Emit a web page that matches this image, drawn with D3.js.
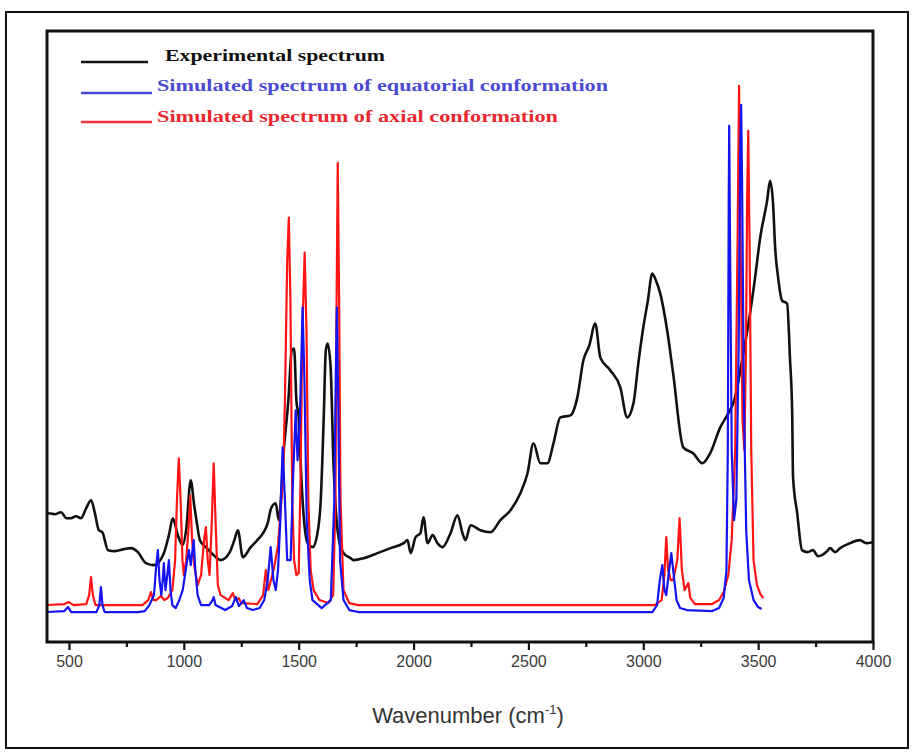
<!DOCTYPE html>
<html>

<head>
  <title>IR spectra</title>
  <script src="https://cdn.jsdelivr.net/npm/d3@7/dist/d3.min.js"></script>
  <style>
    body { margin: 0; background: #fff; }
  </style>
</head>

<body>
  <svg width="913" height="753" id="mainsvg"></svg>
  <script>
    // [wavenumber (cm-1), intensity (arb. units)]
    const experimental = [
      [400,126],[413,128],[440,127],[465,129],[490,123],[509,123],[530,125],[552,123],[575,133],[596,141],
      [612,129],[630,111],[645,109],[670,91],[700,90],[740,92],[770,93],[800,89],[835,78],[870,76],
      [913,88],[935,106],[952,123],[974,106],[995,96],[1010,111],[1030,161],[1045,136],[1055,121],[1070,101],
      [1100,93],[1130,86],[1161,81],[1200,89],[1220,101],[1235,111],[1257,84],[1291,94],[1320,101],[1365,118],
      [1380,133],[1400,138],[1413,121],[1435,191],[1455,241],[1470,291],[1480,293],[1490,241],[1500,224],[1512,161],
      [1522,124],[1539,98],[1561,94],[1580,106],[1596,141],[1609,224],[1618,291],[1626,298],[1639,274],[1652,174],
      [1665,121],[1680,96],[1696,88],[1726,83],[1740,81],[1783,83],[1843,88],[1900,93],[1957,98],[1974,101],
      [1987,88],[2009,104],[2030,108],[2043,124],[2061,98],[2083,106],[2104,98],[2126,94],[2161,108],[2191,126],
      [2213,108],[2226,101],[2248,116],[2291,111],[2335,109],[2378,121],[2422,131],[2465,148],[2496,168],[2522,198],
      [2552,178],[2583,178],[2609,198],[2639,224],[2683,226],[2713,244],[2739,281],[2765,296],[2791,318],[2813,284],
      [2857,271],[2900,254],[2930,224],[2957,238],[2980,281],[3000,314],[3020,341],[3039,368],[3055,361],[3074,348],
      [3104,311],[3130,268],[3174,194],[3217,188],[3257,178],[3291,188],[3335,214],[3370,228],[3396,241],[3430,281],
      [3460,321],[3485,361],[3509,404],[3539,441],[3552,461],[3565,438],[3574,394],[3587,364],[3604,341],[3626,338],
      [3639,281],[3648,231],[3652,164],[3670,128],[3691,91],[3715,89],[3739,91],[3760,85],[3778,86],[3800,90],
      [3813,93],[3835,89],[3857,93],[3900,98],[3943,101],[3970,98],[4000,99]
    ];

    const equatorial = [
      [400,29],[480,30],[496,34],[510,29],[620,29],[632,36],[639,54],[646,36],[655,29],[800,29],
      [830,30],[850,36],[870,46],[880,76],[887,91],[894,61],[902,46],[908,61],[913,78],[920,51],
      [928,66],[935,81],[942,51],[950,36],[965,33],[980,41],[995,51],[1005,66],[1015,81],[1022,91],
      [1030,76],[1043,101],[1050,71],[1060,46],[1075,36],[1110,36],[1125,41],[1130,44],[1138,36],[1180,31],
      [1210,35],[1226,44],[1240,35],[1261,41],[1275,33],[1300,31],[1330,33],[1350,41],[1365,61],[1378,94],
      [1390,61],[1400,51],[1410,71],[1420,121],[1430,194],[1440,141],[1450,81],[1465,81],[1475,161],[1487,231],
      [1495,181],[1505,221],[1517,334],[1525,261],[1535,121],[1548,61],[1560,41],[1600,33],[1640,41],[1655,141],
      [1660,241],[1666,334],[1672,241],[1680,81],[1695,41],[1720,31],[1760,29],[3040,29],[3060,36],[3072,61],
      [3083,76],[3092,51],[3100,46],[3110,66],[3122,88],[3135,61],[3145,41],[3160,33],[3190,31],[3300,30],
      [3330,33],[3350,43],[3362,71],[3368,191],[3372,441],[3374,516],[3378,391],[3385,191],[3395,121],[3405,141],
      [3415,291],[3422,491],[3426,537],[3430,461],[3438,241],[3448,111],[3460,61],[3480,41],[3500,34],[3515,32]
    ];

    const axial = [
      [400,36],[480,37],[500,39],[520,36],[575,37],[588,46],[596,64],[604,46],[615,36],[820,36],
      [845,41],[857,49],[868,41],[880,41],[900,45],[915,41],[930,43],[950,51],[962,81],[970,141],
      [978,183],[986,141],[994,81],[1000,66],[1010,81],[1020,111],[1028,146],[1036,101],[1045,76],[1060,56],
      [1075,66],[1088,101],[1096,114],[1104,81],[1112,66],[1122,121],[1130,178],[1138,121],[1148,56],[1160,46],
      [1195,41],[1213,48],[1225,41],[1239,43],[1250,38],[1320,37],[1345,46],[1357,71],[1368,51],[1385,66],
      [1395,76],[1410,96],[1425,141],[1432,161],[1440,241],[1450,381],[1457,424],[1464,341],[1472,141],[1480,81],
      [1490,66],[1500,68],[1508,161],[1516,311],[1526,389],[1534,311],[1542,141],[1552,71],[1565,51],[1590,41],
      [1630,38],[1650,46],[1660,141],[1665,341],[1670,479],[1676,341],[1682,141],[1695,51],[1720,38],[1760,36],
      [3050,36],[3080,41],[3092,66],[3100,104],[3108,71],[3120,61],[3130,61],[3148,81],[3158,123],[3168,71],
      [3180,51],[3196,58],[3205,43],[3225,37],[3300,37],[3330,41],[3350,49],[3370,66],[3385,101],[3400,191],
      [3410,391],[3417,556],[3424,391],[3432,221],[3440,191],[3447,291],[3452,441],[3457,511],[3463,391],[3470,191],
      [3480,81],[3495,56],[3510,47],[3522,43]
    ];

    const majorTicks = [500, 1000, 1500, 2000, 2500, 3000, 3500, 4000];
    const minorTicks = [750, 1250, 1750, 2250, 2750, 3250, 3750];

    const legendLabels = [
      'Experimental spectrum',
      'Simulated spectrum of equatorial conformation',
      'Simulated spectrum of axial conformation'
    ];

    const svg = d3.select('#mainsvg');
    const frame = { left: 47, top: 31, right: 873, bottom: 642 };

    // outer box around the whole figure
    svg.append('rect')
      .attr('x', 6).attr('y', 12)
      .attr('width', 902).attr('height', 736)
      .attr('fill', 'none').attr('stroke', '#111').attr('stroke-width', 2);

    const x = d3.scaleLinear().domain([400, 4000]).range([46, frame.right]);
    const y = d3.scaleLinear().domain([0, 611]).range([frame.bottom - 1, frame.top]);

    svg.append('clipPath').attr('id', 'plotclip')
      .append('rect')
      .attr('x', frame.left).attr('y', frame.top)
      .attr('width', frame.right - frame.left).attr('height', frame.bottom - frame.top);

    const line = d3.line()
      .x(d => x(d[0]))
      .y(d => y(d[1]));

    const series = [
      { data: experimental, color: '#111111', w: 2.6, curve: d3.curveMonotoneX },
      { data: axial, color: '#ff1414', w: 2.2, curve: d3.curveLinear },
      { data: equatorial, color: '#1414f0', w: 2.2, curve: d3.curveLinear }
    ];

    const g = svg.append('g').attr('clip-path', 'url(#plotclip)');
    g.selectAll('.spec')
      .data(series)
      .join('path')
      .attr('class', 'spec')
      .attr('d', d => line.curve(d.curve)(d.data))
      .attr('fill', 'none')
      .attr('stroke', d => d.color)
      .attr('stroke-width', d => d.w)
      .attr('stroke-linejoin', 'round');

    // x axis: major and minor ticks below the frame
    const axisG = svg.append('g')
      .attr('transform', `translate(0, ${frame.bottom})`)
      .call(d3.axisBottom(x).tickValues(majorTicks).tickSize(8).tickPadding(6).tickFormat(d3.format('d')));
    axisG.select('.domain').remove();
    axisG.selectAll('line').attr('stroke', '#111').attr('stroke-width', 2.2);
    axisG.selectAll('text')
      .attr('font-family', 'Liberation Sans, Arial, sans-serif')
      .attr('font-size', 16)
      .attr('fill', '#3a3a3a');

    const minorG = svg.append('g')
      .attr('transform', `translate(0, ${frame.bottom})`)
      .call(d3.axisBottom(x).tickValues(minorTicks).tickSize(5).tickFormat(''));
    minorG.select('.domain').remove();
    minorG.selectAll('line').attr('stroke', '#111').attr('stroke-width', 2.2);

    // plot frame
    svg.append('rect')
      .attr('x', frame.left).attr('y', frame.top)
      .attr('width', frame.right - frame.left).attr('height', frame.bottom - frame.top)
      .attr('fill', 'none').attr('stroke', '#111').attr('stroke-width', 3);

    // axis title
    const title = svg.append('text')
      .attr('x', 468).attr('y', 723)
      .attr('text-anchor', 'middle')
      .attr('font-family', 'Liberation Sans, Arial, sans-serif')
      .attr('font-size', 22)
      .attr('fill', '#333');
    title.append('tspan').text('Wavenumber (cm');
    title.append('tspan').attr('font-size', 13).attr('dy', -9).text('-1');
    title.append('tspan').attr('dy', 9).text(')');

    // legend
    const legendItems = [
      { label: legendLabels[0], line: '#111', text: '#111', ly: 62, ty: 61, tx: 165, x2: 148, w: 220 },
      { label: legendLabels[1], line: '#4848d8', text: '#4a4ad2', ly: 93, ty: 91, tx: 157, x2: 152, w: 451 },
      { label: legendLabels[2], line: '#f0303a', text: '#e8282e', ly: 122, ty: 122, tx: 157, x2: 152, w: 401 }
    ];
    const legend = svg.append('g');
    legend.selectAll('line')
      .data(legendItems)
      .join('line')
      .attr('x1', 81).attr('x2', d => d.x2)
      .attr('y1', d => d.ly).attr('y2', d => d.ly)
      .attr('stroke', d => d.line)
      .attr('stroke-width', 2.5);
    legend.selectAll('text')
      .data(legendItems)
      .join('text')
      .attr('x', d => d.tx).attr('y', d => d.ty)
      .attr('font-family', 'Liberation Serif, Times New Roman, serif')
      .attr('font-weight', 'bold')
      .attr('font-size', 17)
      .attr('fill', d => d.text)
      .attr('textLength', d => d.w)
      .attr('lengthAdjust', 'spacingAndGlyphs')
      .text(d => d.label);
  </script>
</body>

</html>
